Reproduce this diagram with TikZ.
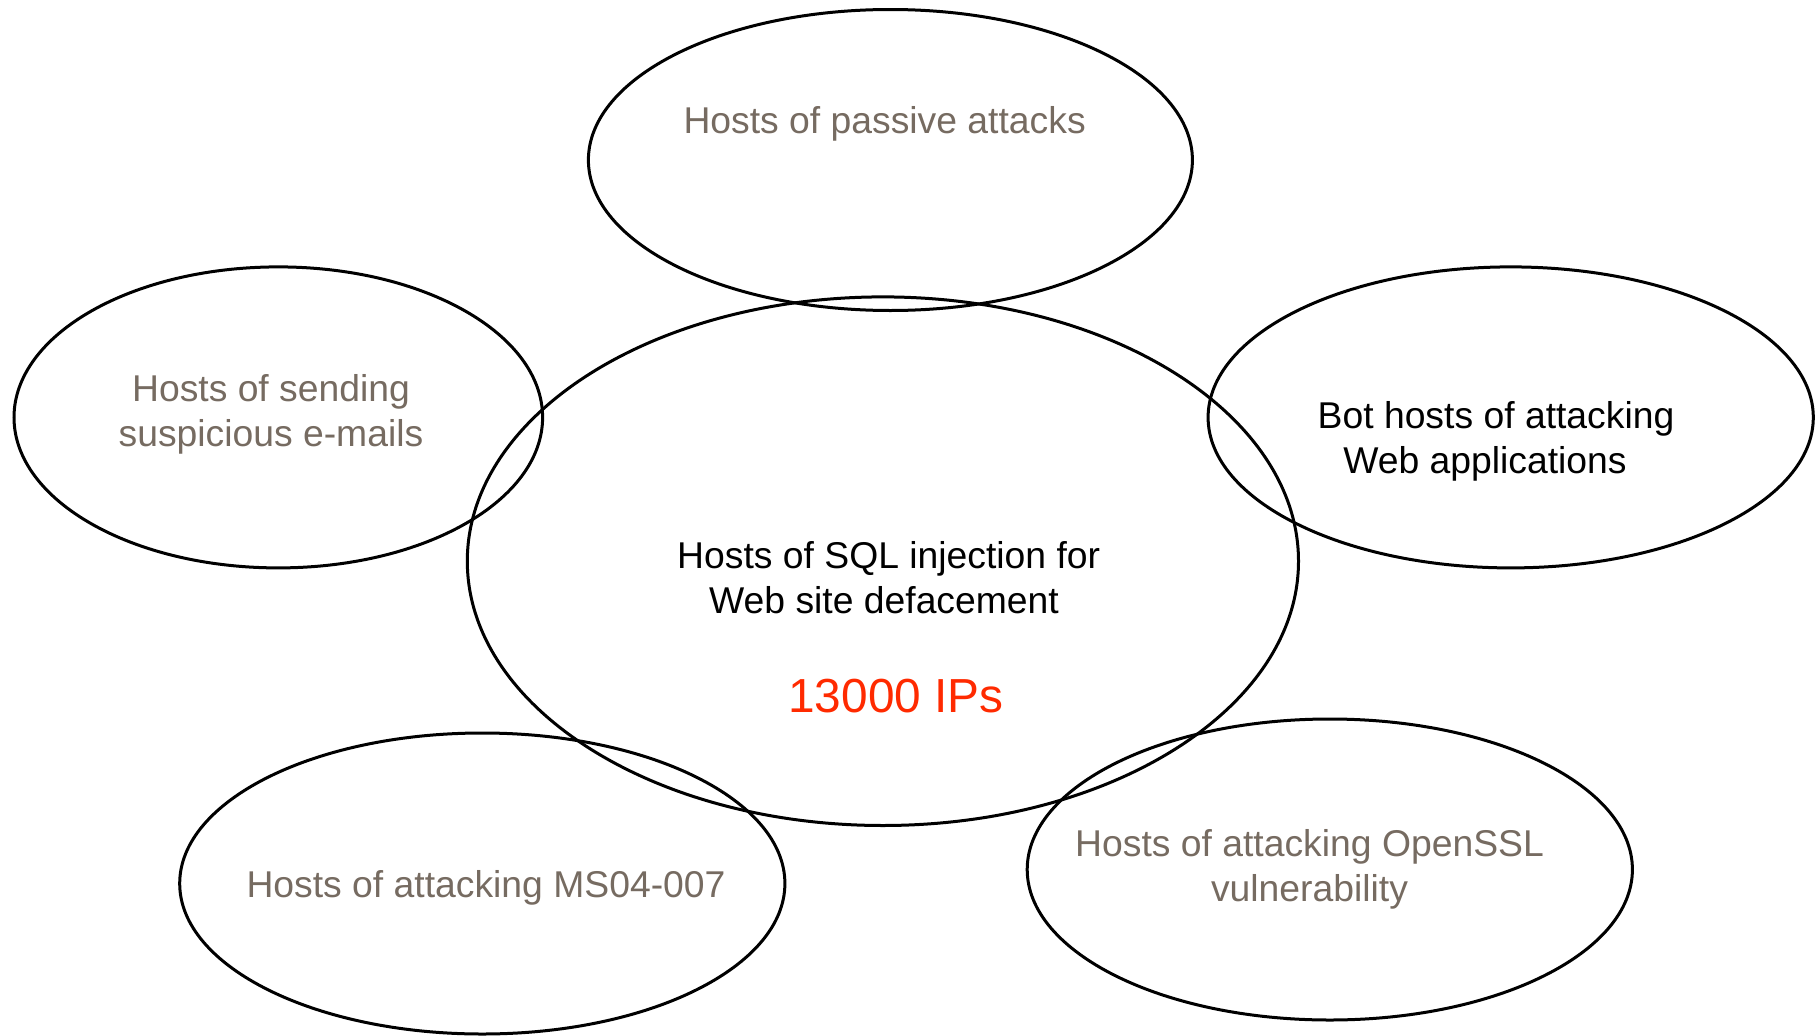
\documentclass[tikz,border=0pt]{standalone}
\usepackage{fontspec}
\setmainfont{Liberation Sans}
\usetikzlibrary{shapes.geometric}
\definecolor{greytxt}{HTML}{766B61}
\definecolor{redtxt}{HTML}{FF2A00}
\begin{document}
\begin{tikzpicture}[x=1pt,y=-1pt,
  oval/.style={draw=black,line width=3pt,ellipse,inner sep=0pt,fill=none},
  lbl/.style={anchor=base,inner sep=0pt,font=\fontsize{37.3}{44}\selectfont},
  grey/.style={lbl,text=greytxt},
  blk/.style={lbl,text=black},
  big/.style={anchor=base,inner sep=0pt,text=redtxt,font=\fontsize{47.8}{56}\selectfont}]
\useasboundingbox (0,0) rectangle (1818,1036);
% ellipses
\node[oval,minimum width=604pt,minimum height=301pt] (top) at (890.4,160.0) {};
\node[oval,minimum width=528.6pt,minimum height=301pt] (left) at (278.3,417.4) {};
\node[oval,minimum width=831.2pt,minimum height=528.6pt] (center) at (882.9,561.2) {};
\node[oval,minimum width=605.2pt,minimum height=301pt] (right) at (1510.7,417.4) {};
\node[oval,minimum width=605.2pt,minimum height=301pt] (bl) at (482.3,883.5) {};
\node[oval,minimum width=605.2pt,minimum height=301pt] (br) at (1329.8,869.5) {};
% texts
\node[grey] (t1) at (884.6,133.6) {Hosts of passive attacks};
\node[grey] (l1) at (271,401) {Hosts of sending};
\node[grey] (l2) at (271,446.6) {suspicious e-mails};
\node[blk] (r1) at (1496,428) {Bot hosts of attacking};
\node[blk] (r2) at (1485,473) {Web applications};
\node[blk] (c1) at (888.7,568) {Hosts of SQL injection for};
\node[blk] (c2) at (884,613.6) {Web site defacement};
\node[big] (c3) at (896,712) {13000 IPs};
\node[grey] (b1) at (486,897.6) {Hosts of attacking MS04-007};
\node[grey] (s1) at (1309.5,856) {Hosts of attacking OpenSSL};
\node[grey] (s2) at (1309.5,901) {vulnerability};
\end{tikzpicture}
\end{document}
